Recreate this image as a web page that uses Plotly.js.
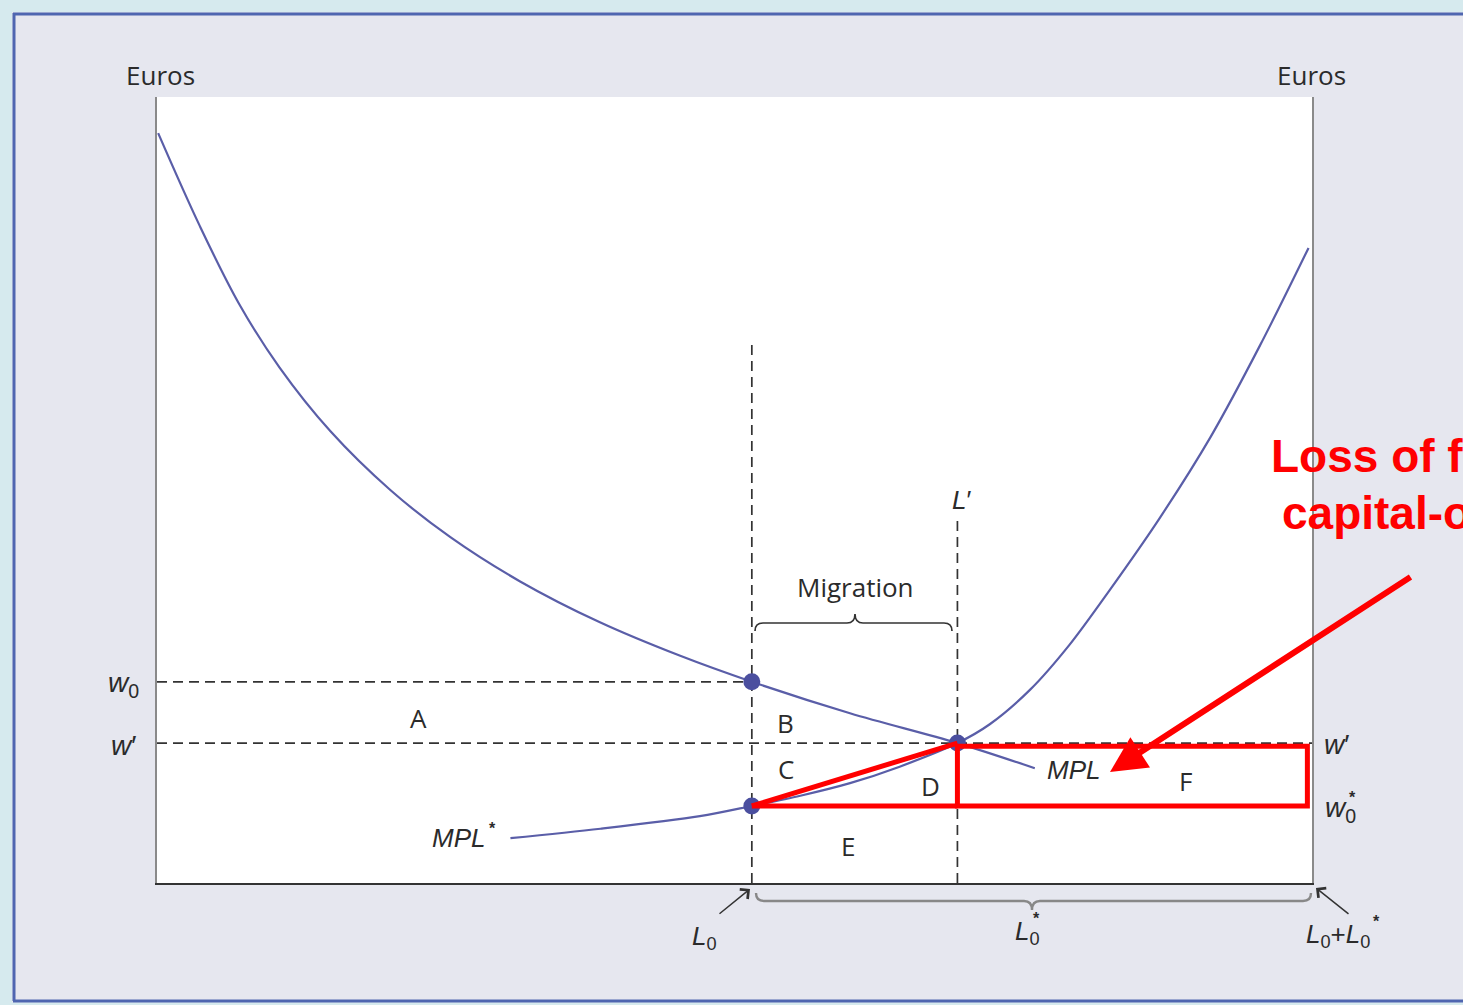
<!DOCTYPE html>
<html><head><meta charset="utf-8">
<script src="https://cdn.plot.ly/plotly-3.0.1.min.js"></script>
<style>html,body{margin:0;padding:0;background:#d6eaee}#chart{width:1463px;height:1005px}</style>
</head><body><div id="chart"></div>
<script>
// ---- data (x: labor, 0 = home origin, 100 = foreign origin; y: euros) ----
const mplX = [0.1, 3.7, 7.1, 10.6, 15.0, 20.2, 25.4, 31.4, 38.3, 45.3, 51.5, 60.0, 69.3, 76.0];
const mplY = [95.4, 83.6, 73.7, 65.6, 57.5, 50.0, 44.0, 38.4, 33.2, 28.9, 25.6, 21.6, 17.8, 14.6];
const mplStarX = [30.6, 38.4, 47.0, 51.5, 55.7, 60.0, 64.3, 69.3, 72.1, 75.6, 79.0, 82.5, 86.8, 91.2, 95.5, 99.7];
const mplStarY = [5.7, 6.9, 8.5, 9.8, 11.1, 12.7, 14.8, 17.8, 20.2, 24.6, 30.3, 37.3, 46.4, 56.7, 68.4, 80.8];
const laborNames = ['L0', "L'", 'L0+L0*'];
const laborVals = [51.5, 69.3, 100];
const wageNames = ['w0', "w'", 'w0*'];
const wageVals = [25.6, 17.8, 9.8];
const eqX = [laborVals[0], laborVals[1], laborVals[0]];
const eqY = [wageVals[0], wageVals[1], wageVals[2]];
const areaLabels = ['A', 'B', 'C', 'D', 'E', 'F'];

const L0 = laborVals[0], Lp = laborVals[1], Lmax = laborVals[2];
const w0 = wageVals[0], wp = wageVals[1], w0s = wageVals[2];

// ---- pixel helpers for layout placement ----
const PL = 157, PR = 1312, PT = 97, PB = 883;
const fx = px => (px - PL) / (PR - PL);
const fy = py => (PB - py) / (PB - PT);
const TXT = '#2b2b2b';
function ann(text, px, py, o) {
  return Object.assign({xref:'paper', yref:'paper', x:fx(px), y:fy(py), text:text,
    showarrow:false, xanchor:'center', yanchor:'middle',
    font:{family:'Open Sans', size:26, color:TXT}}, o || {});
}
function it(size){ return {family:'Liberation Sans', size:size, color:TXT}; }
function brace(x0, x1, yEnd, yh, xc, ytip) {
  const d = 8;
  const s = (c, x, y) => c + fx(x) + ',' + fy(y);
  return [s('M', x0, yEnd), s('Q', x0, yh), s('', x0 + d, yh), s('L', xc - d, yh),
    s('Q', xc, yh), s('', xc, ytip), s('Q', xc, yh), s('', xc + d, yh),
    s('L', x1 - d, yh), s('Q', x1, yh), s('', x1, yEnd)].join(' ');
}

const curveColor = '#5a5ea8';
const traces = [
  {x: mplX, y: mplY, mode:'lines', line:{color:curveColor, width:2.2, shape:'spline', smoothing:1}, hoverinfo:'skip'},
  {x: mplStarX, y: mplStarY, mode:'lines', line:{color:curveColor, width:2.2, shape:'spline', smoothing:0.9}, hoverinfo:'skip'},
  {x: eqX, y: eqY, mode:'markers', marker:{color:'#4b4f9f', size:17}, hoverinfo:'skip', cliponaxis:false}
];

const dash = '10px,6px';
const shapes = [
  // outer frame
  {type:'rect', xref:'paper', yref:'paper', x0:fx(0), x1:fx(1463), y0:fy(12), y1:fy(0), fillcolor:'#d6eaee', line:{width:0}},
  {type:'rect', xref:'paper', yref:'paper', x0:fx(0), x1:fx(12), y0:fy(1005), y1:fy(0), fillcolor:'#d6eaee', line:{width:0}},
  {type:'rect', xref:'paper', yref:'paper', x0:fx(0), x1:fx(1463), y0:fy(1005), y1:fy(1002.5), fillcolor:'#d6eaee', line:{width:0}},
  {type:'line', xref:'paper', yref:'paper', x0:fx(13), x1:fx(1463), y0:fy(14), y1:fy(14), line:{color:'#4f66b0', width:3}},
  {type:'line', xref:'paper', yref:'paper', x0:fx(14), x1:fx(14), y0:fy(13), y1:fy(1001), line:{color:'#4f66b0', width:3}},
  {type:'line', xref:'paper', yref:'paper', x0:fx(13), x1:fx(1463), y0:fy(1001), y1:fy(1001), line:{color:'#4f66b0', width:3}},
  // dashed guides
  {type:'line', xref:'x', yref:'y', x0:0, x1:L0, y0:w0, y1:w0, line:{color:'#333', width:1.7, dash:dash}, layer:'below'},
  {type:'line', xref:'x', yref:'y', x0:0, x1:Lmax, y0:wp, y1:wp, line:{color:'#333', width:1.7, dash:dash}, layer:'below'},
  {type:'line', xref:'x', yref:'y', x0:L0, x1:L0, y0:0, y1:69.1, line:{color:'#333', width:1.7, dash:dash}, layer:'below'},
  {type:'line', xref:'x', yref:'y', x0:Lp, x1:Lp, y0:0, y1:46.2, line:{color:'#333', width:1.7, dash:dash}, layer:'below'},
  // braces
  {type:'path', xref:'paper', yref:'paper', path:brace(755, 952, 631, 623, 855, 614), line:{color:'#333', width:1.7}},
  {type:'path', xref:'paper', yref:'paper', path:brace(756, 1311, 893, 901, 1032, 910), line:{color:'#888', width:2.4}},
  // red annotation
  {type:'line', xref:'x', yref:'y', x0:L0, x1:Lp, y0:w0s, y1:wp, line:{color:'#ff0000', width:5}},
  {type:'line', xref:'x', yref:'y', x0:L0, x1:Lp, y0:w0s, y1:w0s, line:{color:'#ff0000', width:5}},
  {type:'rect', xref:'x', yref:'y', x0:Lp, x1:99.6, y0:w0s, y1:wp - 0.4, line:{color:'#ff0000', width:5}}
];

const annotations = [
  ann('Euros', 160, 75), ann('Euros', 1311, 75),
  ann('<i>w</i><sub>0</sub>', 123, 684, {font:it(28)}),
  ann('<i>w</i>′', 123, 745, {font:it(28)}),
  ann('<i>w</i>′', 1336, 744, {font:it(28)}),
  ann('<i>w</i><sub>0</sub>', 1340, 809, {font:it(28)}),
  ann('<b>*</b>', 1352, 797, {font:it(16)}),
  ann(areaLabels[0], 418, 718), ann(areaLabels[1], 785, 723), ann(areaLabels[2], 786, 769),
  ann(areaLabels[3], 930, 786), ann(areaLabels[4], 848, 846), ann(areaLabels[5], 1185, 781),
  ann('<i>MPL</i>', 1073, 770, {font:it(26)}),
  ann('<i>MPL</i>', 458, 838, {font:it(26)}),
  ann('<b>*</b>', 492, 828, {font:it(16)}),
  ann('Migration', 855, 587),
  ann('<i>L</i>′', 961, 500, {font:it(26)}),
  ann('<i>L</i><sub>0</sub>', 704, 937, {font:it(26)}),
  ann('<i>L</i><sub>0</sub>', 1027, 932, {font:it(26)}),
  ann('<b>*</b>', 1036, 918, {font:it(16)}),
  ann('<i>L</i><sub>0</sub>+<i>L</i><sub>0</sub>', 1338, 935, {font:it(26)}),
  ann('<b>*</b>', 1376, 921, {font:it(16)}),
  // arrows
  {xref:'paper', yref:'paper', x:fx(750), y:fy(889), ax:-32, ay:26, text:'', showarrow:true,
   arrowhead:4, arrowsize:1.6, arrowwidth:1.5, arrowcolor:'#333', standoff:0},
  {xref:'paper', yref:'paper', x:fx(1316), y:fy(888), ax:34, ay:27, text:'', showarrow:true,
   arrowhead:4, arrowsize:1.6, arrowwidth:1.5, arrowcolor:'#333', standoff:0},
  {xref:'paper', yref:'paper', x:fx(1110), y:fy(772), ax:302, ay:-196, text:'', showarrow:true,
   arrowhead:2, arrowsize:1.2, arrowwidth:6, arrowcolor:'#ff0000', standoff:0},
  // red text
  ann('<b>Loss of foreign</b>', 1269, 456, {xanchor:'left', font:{family:'Liberation Sans', size:46, color:'#ff0000'}}),
  ann('<b>capital-owners</b>', 1280, 513, {xanchor:'left', font:{family:'Liberation Sans', size:46, color:'#ff0000'}})
];

const layout = {
  width:1463, height:1005,
  margin:{l:PL, r:1463 - PR, t:PT, b:1005 - PB, pad:0},
  paper_bgcolor:'#e6e7ef', plot_bgcolor:'#ffffff',
  showlegend:false,
  xaxis:{range:[0, 100], showgrid:false, zeroline:false, showticklabels:false, ticks:'',
         showline:true, linecolor:'#333', linewidth:2, fixedrange:true},
  yaxis:{range:[0, 100], showgrid:false, zeroline:false, showticklabels:false, ticks:'',
         showline:true, mirror:true, linecolor:'#8a8a8a', linewidth:2, fixedrange:true},
  shapes:shapes, annotations:annotations
};
Plotly.newPlot('chart', traces, layout, {displayModeBar:false, staticPlot:true});
</script></body></html>
